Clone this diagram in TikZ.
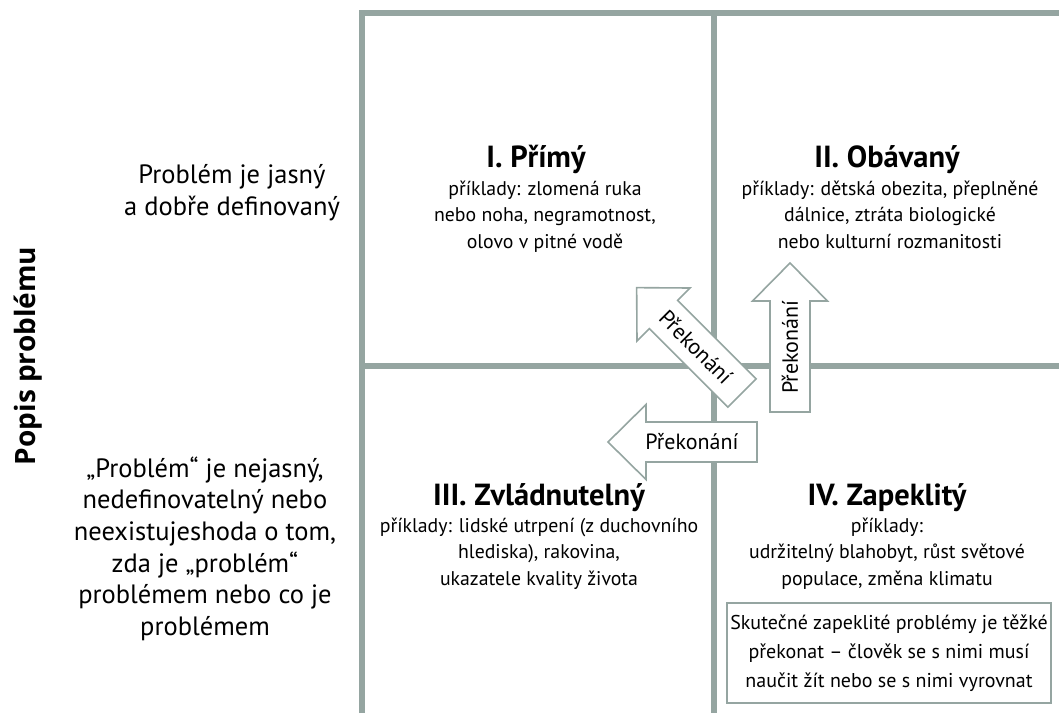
\documentclass[tikz,border=0pt]{standalone}
\usepackage{fontspec}
\setmainfont{PT Sans}
\newfontfamily\axisfont{Open Sans}
\definecolor{gridgray}{HTML}{95A5A1}
\begin{document}
\begin{tikzpicture}[x=1pt, y=-1pt,
    gridline/.style={draw=gridgray, line width=6pt},
    qtitle/.style={font=\bfseries\fontsize{30.5}{32}\selectfont, anchor=base},
    qbody/.style={font=\fontsize{19.8}{26.5}\selectfont, align=center, anchor=base},
    side/.style={font=\fontsize{26.5}{31.7}\selectfont, align=center, anchor=base},
    arrowshape/.style={draw=gridgray, fill=white, line width=1.6pt},
    arrowtext/.style={font=\fontsize{22}{23}\selectfont}]
    \useasboundingbox (0,0) rectangle (1059,713);
    % grid
    \draw[gridline] (362,713) -- (362,13) -- (1059,13);
    \draw[gridline] (713.5,13) -- (713.5,713);
    \draw[gridline] (362,366) -- (1059,366);
    % side labels (base = last line)
    \node[font=\axisfont\bfseries\fontsize{28}{30}\selectfont, rotate=90, anchor=base]
        (axis) at (35,356) {Popis problému};
    \node[side] (clear) at (232,215) {Problém je jasný\\a dobře definovaný};
    \node[side] (unclear) at (205,635.5) {„Problém“ je nejasný,\\nedefinovatelný nebo\\neexistujeshoda o tom,\\zda je „problém“\\problémem nebo co je\\problémem};
    % quadrants
    \node[qtitle] (q1title) at (536,167) {I. Přímý};
    \node[qbody] (q1text) at (545,248) {příklady: zlomená ruka\\nebo noha, negramotnost,\\olovo v pitné vodě};
    \node[qtitle] (q2title) at (887,167) {II. Obávaný};
    \node[qbody] (q2text) at (890,248) {příklady: dětská obezita, přeplněné\\dálnice, ztráta biologické\\nebo kulturní rozmanitosti};
    \node[qtitle] (q3title) at (539,505) {III. Zvládnutelný};
    \node[qbody] (q3text) at (539,585) {příklady: lidské utrpení (z duchovního\\hlediska), rakovina,\hspace*{34pt}\\ukazatele kvality života};
    \node[qtitle] (q4title) at (887,505) {IV. Zapeklitý};
    \node[qbody] (q4text) at (887,585) {příklady:\\udržitelný blahobyt, růst světové\\populace, změna klimatu};
    \node[draw=gridgray, line width=1.6pt, minimum width=324pt, minimum height=100pt,
        align=center, font=\fontsize{20}{29}\selectfont]
        (note) at (889,653) {Skutečné zapeklité problémy je těžké\\překonat – člověk se s nimi musí\\naučit žít nebo se s nimi vyrovnat};
    % arrows
    \begin{scope}[shift={(742,393)}, rotate=135]
        \filldraw[arrowshape] (0,-20) -- (111,-20) -- (111,-37.5) -- (149,0)
            -- (111,37.5) -- (111,20) -- (0,20) -- cycle;
        \node[arrowtext, rotate=-45] (diag) at (65,0) {Překonání};
    \end{scope}
    \begin{scope}[shift={(790,412)}, rotate=90]
        \filldraw[arrowshape] (0,-20) -- (111,-20) -- (111,-37.5) -- (149,0)
            -- (111,37.5) -- (111,20) -- (0,20) -- cycle;
        \node[arrowtext, rotate=90] (up) at (65,0) {Překonání};
    \end{scope}
    \begin{scope}[shift={(757,442)}, rotate=180]
        \filldraw[arrowshape] (0,-20) -- (111,-20) -- (111,-37.5) -- (149,0)
            -- (111,37.5) -- (111,20) -- (0,20) -- cycle;
        \node[arrowtext] (left) at (65,0) {Překonání};
    \end{scope}
\end{tikzpicture}
\end{document}
